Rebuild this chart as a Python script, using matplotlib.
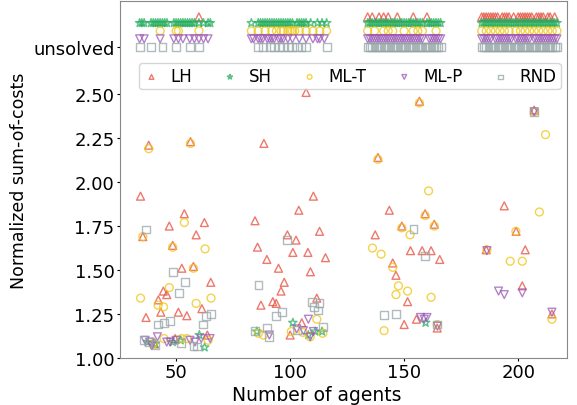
import numpy as np
import matplotlib.pyplot as plt

# solved instances: (agents, normalized sum-of-costs)
lh_x = [34.4, 35.4, 38.0, 36.8, 42.2, 43.3, 44.4, 45.9, 47, 48.5, 49.6, 51, 52.5, 53.6, 54.7, 56.3, 57.6, 58.8, 61.3, 62.4, 63.7, 65.2, 40.5,
        84.6, 85.7, 87.2, 88.5, 89.8, 92.4, 93.9, 94.9, 96, 97.4, 98.8, 100, 101.2, 102.6, 103.8, 105.1, 107, 107.8, 108.9, 110.2, 111.7, 112.9, 115.5,
        137.3, 138.5, 143.5, 145, 146.4, 149, 150, 151.5, 152.8, 155.4, 156.7, 157.9, 159.2, 161.8, 163.2, 164.5, 165.6,
        186, 193.9, 199.1, 201.8, 203.1, 207, 214.8]
lh_y = [1.92, 1.69, 2.21, 1.23, 1.33, 1.26, 1.38, 1.36, 1.75, 1.64, 1.11, 1.26, 1.51, 1.82, 1.24, 2.23, 1.52, 1.70, 1.28, 1.77, 1.13, 1.43, 1.08,
        1.78, 1.63, 1.30, 2.22, 1.56, 1.32, 1.31, 1.51, 1.38, 1.43, 1.70, 1.13, 1.60, 1.67, 1.84, 1.20, 2.51, 1.60, 1.49, 1.92, 1.34, 1.72, 1.57,
        1.70, 2.14, 1.84, 1.54, 1.47, 1.75, 1.19, 1.32, 1.61, 1.22, 2.46, 1.61, 1.82, 1.61, 1.76, 1.17, 1.56,
        1.615, 1.865, 1.72, 1.41, 1.615, 2.41, 1.25]

sh_x = [37.5, 40.8, 48.5, 52, 60.2, 62.5, 85.4, 101.2, 108, 111, 114, 159.4]
sh_y = [1.09, 1.08, 1.09, 1.10, 1.13, 1.06, 1.15, 1.20, 1.13, 1.15, 1.15, 1.20]

mlt_x = [34.4, 35.4, 38.0, 40, 42.1, 44.5, 44.7, 47, 48.5, 52.3, 53.6, 54.7, 56.3, 57.6, 58.8, 62.7, 64, 65.3,
         86.1, 88.3, 100.5, 105.6, 108.8, 111.7, 114.3,
         136.1, 138.5, 139.9, 141.2, 145, 146.4, 147.5, 149, 151.5, 152.6, 156.7, 159.2, 160.7, 161.8, 163.2, 164.5,
         186.3, 196.5, 199, 201.8, 207, 209.3, 212, 214.8]
mlt_y = [1.34, 1.69, 2.19, 1.08, 1.30, 1.29, 1.11, 1.40, 1.63, 1.11, 1.77, 1.11, 2.22, 1.51, 1.31, 1.62, 1.10, 1.34,
         1.14, 1.13, 1.15, 1.145, 1.12, 1.22, 1.14,
         1.625, 2.13, 1.59, 1.155, 1.515, 1.36, 1.41, 1.74, 1.38, 1.70, 2.45, 1.81, 1.95, 1.345, 1.75, 1.19,
         1.615, 1.55, 1.72, 1.55, 2.40, 1.83, 2.27, 1.22]

mlp_x = [36.4, 38.6, 39.3, 41.8, 45.9, 47.4, 50, 56.1, 58.3, 61, 64.9,
         90.9, 102.9, 105.8, 108, 108.8, 110.2,
         157.2, 158.8, 160, 164.6,
         186.3, 191.4, 193.9, 201.8, 207, 214.8]
mlp_y = [1.10, 1.09, 1.07, 1.12, 1.09, 1.09, 1.10, 1.10, 1.09, 1.11, 1.11,
         1.13, 1.165, 1.155, 1.22, 1.12, 1.15,
         1.23, 1.22, 1.23, 1.18,
         1.61, 1.38, 1.36, 1.37, 2.40, 1.26]

rnd_x = [35.7, 36.8, 37.9, 40.8, 42, 44.7, 47.4, 48.8, 51.4, 52.2, 54, 57.6, 59, 61.7, 63, 65.4,
         84.6, 86.1, 89.8, 90.9, 93.9, 96.4, 98.8, 102.9, 109.5, 110.5, 112.1, 112.9, 114.3,
         141.2, 146.5, 154.1, 159.3, 164.5,
         207]
rnd_y = [1.10, 1.73, 1.09, 1.075, 1.19, 1.20, 1.21, 1.49, 1.37, 1.085, 1.43, 1.07, 1.065, 1.19, 1.24, 1.25,
         1.155, 1.415, 1.17, 1.12, 1.24, 1.26, 1.67, 1.16, 1.32, 1.29, 1.27, 1.31, 1.175,
         1.245, 1.25, 1.735, 1.58, 1.19,
         2.40]

# unsolved instances (agents only)
lh_fail = [60, 134, 136, 139, 141, 143, 147, 154, 160,
           184, 185, 186, 187, 188, 189, 190, 191, 193, 194, 195, 196, 198, 200, 201, 202, 203,
           204, 205, 206, 208, 209, 210, 211, 213, 214, 216]
sh_fail = [34, 35, 36, 39, 40, 41, 42, 43, 44, 45, 46, 49, 50, 51, 52, 53, 54, 55, 56, 57, 58, 60, 62, 64, 65,
           83, 86, 87, 88, 89, 90, 91, 92, 93, 94, 95, 96, 97, 98, 99, 100, 101, 103, 104, 105, 106, 107, 109, 112, 114, 116,
           134, 135, 136, 137, 138, 139, 140, 141, 142, 143, 144, 145, 146, 147, 148, 149, 150, 151, 152, 153, 154,
           155, 156, 157, 158, 160, 161, 162, 163, 164, 165, 166,
           184, 185, 186, 187, 188, 189, 190, 191, 192, 193, 194, 195, 196, 197, 198, 199, 200, 201, 202, 203, 204,
           205, 206, 207, 208, 209, 210, 211, 212, 213, 214, 215, 216, 217]
mlt_fail = [43, 50, 51, 60,
            83, 86, 89, 92, 94, 96, 97, 99, 100, 101, 102, 104, 107, 110, 113, 116,
            134, 137, 141, 143, 145, 150, 154, 156, 158, 164,
            184, 186, 188, 190, 192, 194, 196, 199, 201, 203, 205, 207, 209, 211, 213, 215, 217]
mlp_fail = [34, 36, 43, 49, 51, 53, 56, 58, 60, 62, 64,
            83, 84, 86, 87, 88, 90, 91, 92, 93, 95, 96, 97, 99, 101, 104, 107, 110, 112, 113, 115,
            134, 135, 136, 137, 138, 139, 140, 141, 142, 143, 144, 145, 146, 147, 148, 149, 150, 151, 152, 153,
            154, 155, 156, 157, 158, 161, 162, 163, 164, 165, 166,
            184, 185, 186, 187, 188, 190, 191, 192, 193, 194, 195, 196, 197, 199, 200, 201, 202, 203, 204, 205,
            207, 208, 209, 210, 211, 212, 213, 214, 215, 216, 217]
rnd_fail = [34, 39, 44, 50, 56, 60,
            86, 88, 91, 93, 95, 97, 99, 101, 103, 105, 107, 116,
            134, 135, 136, 137, 138, 139, 140, 141, 142, 143, 144, 145, 146, 147, 148, 149, 150, 151, 152, 153,
            154, 155, 156, 157, 158, 159, 160, 161, 162, 163, 164, 165, 166,
            184, 185, 186, 187, 188, 189, 190, 191, 192, 193, 194, 195, 196, 197, 198, 199, 200, 201, 202, 203,
            204, 205, 206, 207, 208, 209, 210, 211, 212, 213, 214, 215, 216, 217]

names = ['LH', 'SH', 'ML-T', 'ML-P', 'RND']
markers = ['^', '*', 'o', 'v', 's']
colors = ['#e74c3c', '#27ae60', '#f1c40f', '#9b59b6', '#95a5a6']
fail_rows = [2.94, 2.905, 2.86, 2.815, 2.77]
unsolved_tick = 2.77

solved = [(lh_x, lh_y), (sh_x, sh_y), (mlt_x, mlt_y), (mlp_x, mlp_y), (rnd_x, rnd_y)]
failed = [lh_fail, sh_fail, mlt_fail, mlp_fail, rnd_fail]

fig = plt.figure(figsize=(5.77, 4.06), dpi=100)
ax = fig.add_axes([0.208, 0.116, 0.775, 0.879])

for name, m, c, row, (xs, ys), fx in zip(names, markers, colors, fail_rows, solved, failed):
    s = 40 if m == '*' else 32
    ax.scatter(xs, ys, marker=m, s=s, facecolors='none', edgecolors=c,
               linewidths=1.0, alpha=0.75, label=name)
    ax.scatter(fx, np.full(len(fx), row), marker=m, s=s, facecolors='none',
               edgecolors=c, linewidths=1.0, alpha=0.75)

ax.set_xlim(25.4, 221.5)
ax.set_ylim(1.0, 3.03)
ax.set_xticks([50, 100, 150, 200])
yt = [1.0, 1.25, 1.5, 1.75, 2.0, 2.25, 2.5, unsolved_tick]
ax.set_yticks(yt)
ax.set_yticklabels(['1.00', '1.25', '1.50', '1.75', '2.00', '2.25', '2.50', 'unsolved'])
ax.tick_params(labelsize=13, length=2.5, pad=1.5)
ax.set_xlabel('Number of agents', fontsize=13.5)
ax.xaxis.set_label_coords(0.44, -0.076)
ax.set_ylabel('Normalized sum-of-costs', fontsize=12.5, labelpad=4)
for sp in ax.spines.values():
    sp.set_color('#888888')

ax.legend(loc='upper left', bbox_to_anchor=(0.0425, 0.826), borderaxespad=0,
          ncol=5, fontsize=12, markerscale=0.6, handlelength=1.0,
          handletextpad=0.65, columnspacing=1.75, borderpad=0.25, framealpha=0.8)

plt.savefig('out.png', dpi=100)
